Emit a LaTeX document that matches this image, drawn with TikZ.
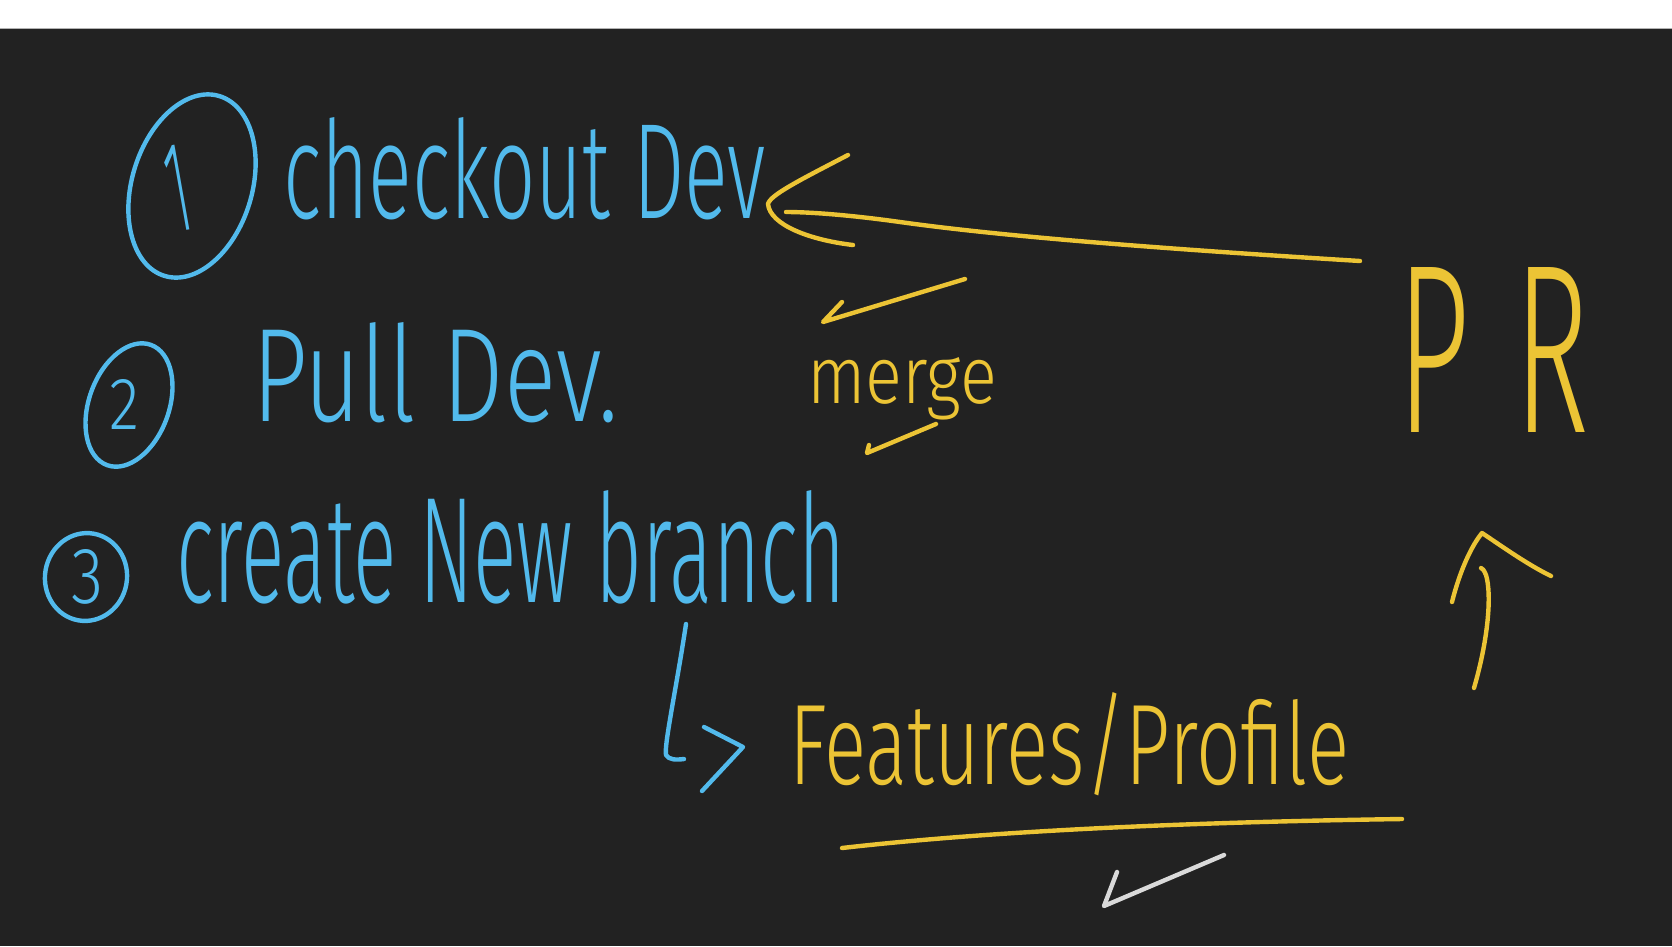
\documentclass[tikz,border=0pt]{standalone}
\usepackage{fontspec}
\usepackage{graphicx}
\newfontfamily\hand{Fira Sans}[UprightFont={* Light}]
\usetikzlibrary{shapes.geometric}
\definecolor{bg}{HTML}{222222}
\definecolor{penblue}{HTML}{52BAEC}
\definecolor{penyellow}{HTML}{ECC435}
\definecolor{penwhite}{HTML}{DADADA}
\newcommand{\hw}[3]{\resizebox{#1pt}{#2pt}{\hand\fontsize{100}{100}\selectfont #3}}
\tikzset{
  pen/.style={line width=4.4pt, line cap=round, line join=round},
  bpen/.style={pen, draw=penblue},
  ypen/.style={pen, draw=penyellow},
  wpen/.style={pen, draw=penwhite},
  txt/.style={inner sep=0pt, outer sep=0pt, anchor=base west},
  num/.style={inner sep=0pt, outer sep=0pt, anchor=center, text=penblue},
  ring/.style={ellipse, draw=penblue, line width=4.4pt, inner sep=0pt, outer sep=0pt}
}
\begin{document}
\begin{tikzpicture}[x=1pt, y=-1pt]
\useasboundingbox (0,0) rectangle (1672,946);
\fill[bg] (0,0) rectangle (1672,946);
\fill[white] (0,0) rectangle (1672,28);
\draw[gray!60, line width=1.5pt] (0,28.5) -- (1672,28.5);

% numbered rings
\node[ring, minimum width=120pt, minimum height=188pt, rotate=-17] (c1) at (192,186) {};
\node[num, rotate=10] (n1) at (178,188) {\hw{22}{86}{1}};
\node[ring, minimum width=80pt, minimum height=128pt, rotate=-20] (c2) at (129,405) {};
\node[num] (n2) at (124,404) {\hw{30}{50}{2}};
\node[ring, minimum width=82pt, minimum height=88pt, rotate=-10] (c3) at (86,577) {};
\node[num] (n3) at (87,577) {\hw{32}{54}{3}};

% texts
\node[txt, text=penblue] (t1) at (283,218) {\hw{483}{101}{checkout Dev}};
\node[txt, text=penblue] (t2) at (252,421) {\hw{366}{99}{Pull Dev.}};
\node[txt, text=penblue] (t3) at (176,602) {\hw{669}{112}{create New branch}};
\node[txt, text=penyellow] (t4) at (789,784) {\hw{560}{92}{Features/Profile}};
\node[txt, text=penyellow] (t5) at (807,403) {\hw{190}{46}{merge}};
\node[txt, text=penyellow] (t6) at (1397,432) {\hw{192}{165}{P\hspace{0.35em}R}};

% blue branch arrow
\coordinate (bA) at (686,624);
\coordinate (bB) at (684,759);
\coordinate (bH1) at (704,727);
\coordinate (bHt) at (743,747);
\coordinate (bH2) at (702,791);
\draw[bpen] (bA) .. controls (676,690) and (664,745) .. (666,755) .. controls (669,760) and (676,760) .. (bB);
\draw[bpen] (bH1) -- (bHt) -- (bH2);

% yellow PR -> checkout arrow
\coordinate (pA) at (1360,261);
\coordinate (pB) at (786,212);
\coordinate (pH1) at (848,155);
\coordinate (pHt) at (768,204);
\coordinate (pH2) at (853,245);
\draw[ypen] (pA) .. controls (1150,248) and (1000,236) .. (900,222) .. controls (850,215) and (810,212) .. (pB);
\draw[ypen] (pH1) .. controls (800,180) and (770,195) .. (pHt) .. controls (770,225) and (810,240) .. (pH2);

% yellow checks
\coordinate (k1a) at (842,302);
\coordinate (k1b) at (823,322);
\coordinate (k1c) at (965,279);
\draw[ypen] (k1a) -- (k1b) -- (k1c);
\coordinate (k2a) at (869,445);
\coordinate (k2b) at (867,453);
\coordinate (k2c) at (936,424);
\draw[ypen] (k2a) -- (k2b) -- (k2c);

% underline
\coordinate (uA) at (842,848);
\coordinate (uB) at (1402,819);
\draw[ypen] (uA) .. controls (1000,830) and (1200,822) .. (uB);

% white check
\coordinate (wA) at (1117,872);
\coordinate (wB) at (1104,906);
\coordinate (wC) at (1224,855);
\draw[wpen] (wA) -- (wB) -- (wC);

% yellow up arrow
\coordinate (aA) at (1474,688);
\coordinate (aB) at (1481,568);
\coordinate (aH1) at (1452,602);
\coordinate (aHt) at (1482,533);
\coordinate (aH2) at (1551,576);
\draw[ypen] (aA) .. controls (1488,640) and (1492,595) .. (1486,575) .. controls (1484,570) and (1482,568) .. (aB);
\draw[ypen] (aH1) .. controls (1460,570) and (1472,545) .. (aHt) .. controls (1500,545) and (1528,565) .. (aH2);
\end{tikzpicture}
\end{document}
